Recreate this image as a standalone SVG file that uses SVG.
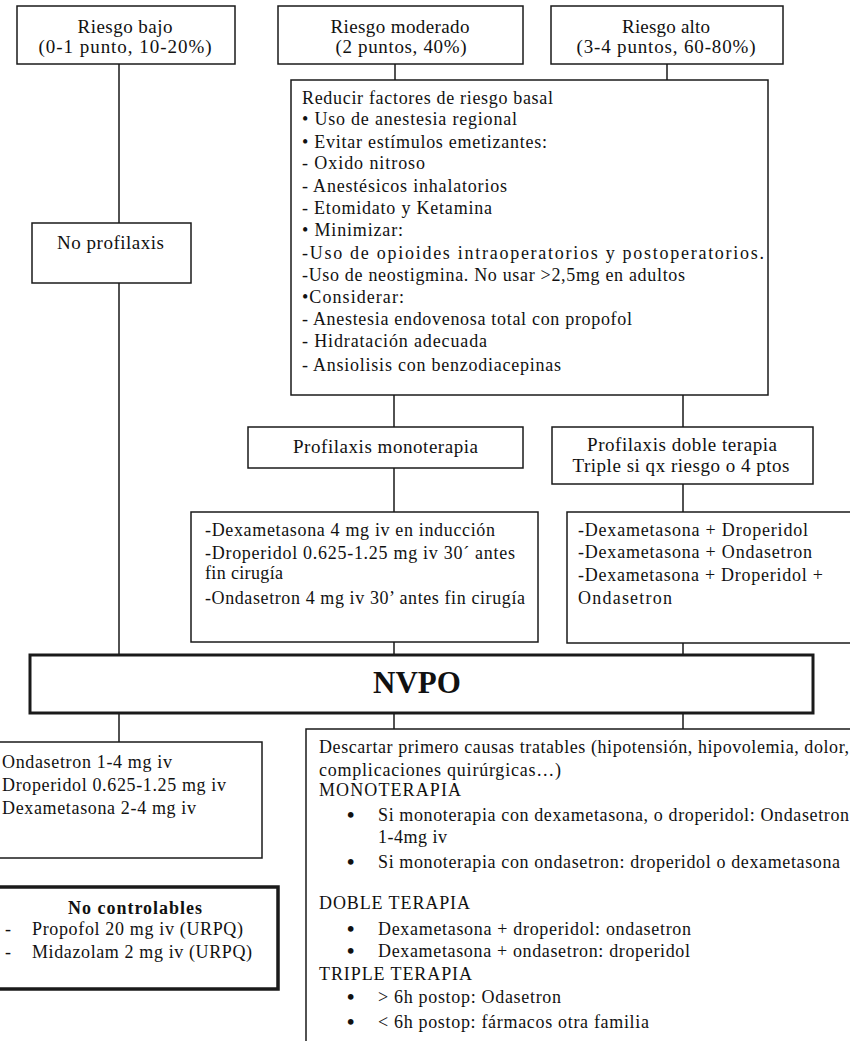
<svg xmlns="http://www.w3.org/2000/svg" width="850" height="1041" viewBox="0 0 850 1041">
<style>
.b{fill:#fff;stroke:#1a1a1a;stroke-width:1.5}
.k{fill:#fff;stroke:#1a1a1a;stroke-width:3.5}
.n{fill:#fff;stroke:#1a1a1a;stroke-width:3}
.l{stroke:#1a1a1a;stroke-width:1.5;fill:none}
text{font-family:"Liberation Serif","Times New Roman",serif;font-size:18px;fill:#111}
.h{font-size:19px}
.c{text-anchor:middle}
.bold{font-weight:bold}
.bu{font-size:21px;font-weight:bold}
</style>
<rect width="850" height="1041" fill="#fff"/>
<g id="connectors">
<path class="l" d="M119 64V223M119 283V655M395 64V80M667 64V80M394 395V427M394 468V512M394 642V655M683 395V427M683 484V512M683 643V655M119 713V742M394 713V729M683 713V729"/>
</g>
<g id="riesgo-bajo">
<rect class="b" x="17" y="6" width="218" height="58"/>
<text class="h c" x="125" y="33" textLength="95">Riesgo bajo</text>
<text class="h c" x="125" y="53" textLength="173">(0-1 punto, 10-20%)</text>
</g>
<g id="riesgo-moderado">
<rect class="b" x="278" y="6" width="245" height="58"/>
<text class="h c" x="400" y="33" textLength="139">Riesgo moderado</text>
<text class="h c" x="401" y="53" textLength="131">(2 puntos, 40%)</text>
</g>
<g id="riesgo-alto">
<rect class="b" x="551" y="6" width="232" height="58"/>
<text class="h c" x="666" y="33" textLength="88">Riesgo alto</text>
<text class="h c" x="666" y="53" textLength="179">(3-4 puntos, 60-80%)</text>
</g>
<g id="no-profilaxis">
<rect class="b" x="32" y="223" width="159" height="60"/>
<text class="h" x="57" y="249" textLength="107">No profilaxis</text>
</g>
<g id="reducir">
<rect class="b" x="291" y="80" width="477" height="315"/>
<text x="302" y="104" textLength="251">Reducir factores de riesgo basal</text>
<text x="302" y="125" textLength="215">• Uso de anestesia regional</text>
<text x="302" y="148" textLength="245">• Evitar estímulos emetizantes:</text>
<text x="302" y="169" textLength="123">- Oxido nitroso</text>
<text x="302" y="192" textLength="205">- Anestésicos inhalatorios</text>
<text x="302" y="214" textLength="190">- Etomidato y Ketamina</text>
<text x="302" y="236" textLength="101">• Minimizar:</text>
<text x="302" y="259" textLength="462">-Uso de opioides intraoperatorios y postoperatorios.</text>
<text x="302" y="281" textLength="383">-Uso de neostigmina. No usar &gt;2,5mg en adultos</text>
<text x="302" y="303" textLength="102">•Considerar:</text>
<text x="302" y="325" textLength="330">- Anestesia endovenosa total con propofol</text>
<text x="302" y="347" textLength="185">- Hidratación adecuada</text>
<text x="302" y="371" textLength="259">- Ansiolisis con benzodiacepinas</text>
</g>
<g id="profilaxis-monoterapia">
<rect class="b" x="248" y="427" width="275" height="41"/>
<text class="h" x="293" y="453" textLength="185">Profilaxis monoterapia</text>
</g>
<g id="profilaxis-doble">
<rect class="b" x="552" y="427" width="261" height="57"/>
<text class="h c" x="682" y="451" textLength="190">Profilaxis doble terapia</text>
<text class="h c" x="681" y="472" textLength="217">Triple si qx riesgo o 4 ptos</text>
</g>
<g id="dosis-monoterapia">
<rect class="b" x="191" y="512" width="347" height="130"/>
<text x="205" y="536" textLength="290">-Dexametasona 4 mg iv en inducción</text>
<text x="205" y="559" textLength="310">-Droperidol  0.625-1.25 mg iv 30´ antes</text>
<text x="205" y="579" textLength="78">fin cirugía</text>
<text x="205" y="604" textLength="320">-Ondasetron 4 mg iv 30’ antes fin cirugía</text>
</g>
<g id="dosis-doble">
<rect class="b" x="567" y="512" width="300" height="131"/>
<text x="578" y="536" textLength="230">-Dexametasona + Droperidol</text>
<text x="578" y="558" textLength="234">-Dexametasona + Ondasetron</text>
<text x="578" y="581" textLength="245">-Dexametasona + Droperidol +</text>
<text x="578" y="604" textLength="94">Ondasetron</text>
</g>
<g id="nvpo">
<rect class="n" x="30" y="655" width="783" height="58"/>
<text class="c bold" x="417" y="693" style="font-size:31px">NVPO</text>
</g>
<g id="rescate-izq">
<rect class="b" x="-2" y="742" width="264" height="116"/>
<text x="2" y="768" textLength="170">Ondasetron 1-4 mg iv</text>
<text x="2" y="791" textLength="224">Droperidol 0.625-1.25 mg iv</text>
<text x="2" y="814" textLength="194">Dexametasona 2-4 mg iv</text>
</g>
<g id="no-controlables">
<rect class="k" x="-3" y="887" width="281" height="102"/>
<text class="bold c" x="135" y="914" textLength="134">No controlables</text>
<text x="5" y="935">-</text>
<text x="32" y="935" textLength="211">Propofol 20 mg iv (URPQ)</text>
<text x="5" y="958">-</text>
<text x="32" y="958" textLength="220">Midazolam 2 mg iv (URPQ)</text>
</g>
<g id="rescate-der">
<rect class="b" x="306" y="729" width="560" height="330"/>
<text x="319" y="753" textLength="530">Descartar primero causas tratables (hipotensión, hipovolemia, dolor,</text>
<text x="319" y="776" textLength="242">complicaciones quirúrgicas…)</text>
<text x="319" y="796" textLength="142">MONOTERAPIA</text>
<text class="bu" x="347" y="822">•</text>
<text x="378" y="821" textLength="471">Si monoterapia con dexametasona, o droperidol: Ondasetron</text>
<text x="378" y="843" textLength="69">1-4mg iv</text>
<text class="bu" x="347" y="869">•</text>
<text x="378" y="868" textLength="462">Si monoterapia con ondasetron: droperidol o dexametasona</text>
<text x="319" y="909" textLength="151">DOBLE TERAPIA</text>
<text class="bu" x="347" y="936">•</text>
<text x="378" y="935" textLength="313">Dexametasona + droperidol: ondasetron</text>
<text class="bu" x="347" y="958">•</text>
<text x="378" y="957" textLength="312">Dexametasona + ondasetron: droperidol</text>
<text x="319" y="980" textLength="153">TRIPLE TERAPIA</text>
<text class="bu" x="347" y="1004">•</text>
<text x="378" y="1003" textLength="183">&gt; 6h postop: Odasetron</text>
<text class="bu" x="347" y="1029">•</text>
<text x="378" y="1028" textLength="271">&lt; 6h postop: fármacos otra familia</text>
</g>
</svg>
